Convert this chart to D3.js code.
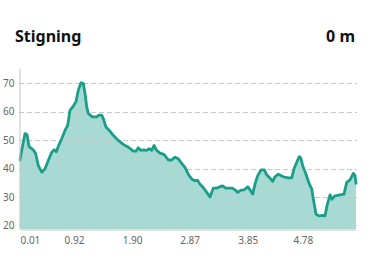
<!DOCTYPE html>
<html>
<head>
<meta charset="utf-8">
<script src="https://cdn.jsdelivr.net/npm/d3@7"></script>
<style>
  body { margin: 0; background: #fff; }
  svg { display: block; font-family: "Noto Sans", "Open Sans", sans-serif; }
</style>
</head>
<body>
<svg id="chart" width="370" height="275"></svg>
<script>
// distance (km) and elevation (m)
const dist = [0.01, 0.044, 0.094, 0.128, 0.162, 0.195, 0.234, 0.275, 0.319, 0.376,
  0.432, 0.487, 0.545, 0.588, 0.622, 0.656, 0.713, 0.769, 0.814, 0.853,
  0.909, 0.954, 0.993, 1.039, 1.077, 1.106, 1.135, 1.162, 1.229, 1.303,
  1.342, 1.388, 1.415, 1.460, 1.516, 1.583, 1.668, 1.752, 1.836, 1.921,
  1.966, 2.005, 2.045, 2.089, 2.147, 2.190, 2.231, 2.270, 2.315, 2.371,
  2.438, 2.511, 2.568, 2.624, 2.679, 2.737, 2.792, 2.848, 2.905, 2.961,
  3.007, 3.045, 3.101, 3.158, 3.214, 3.270, 3.327, 3.383, 3.428, 3.479,
  3.535, 3.590, 3.636, 3.681, 3.737, 3.792, 3.850, 3.889, 3.934, 3.973,
  4.018, 4.074, 4.130, 4.170, 4.226, 4.271, 4.310, 4.366, 4.450, 4.534,
  4.592, 4.631, 4.676, 4.720, 4.743, 4.777, 4.833, 4.889, 4.929, 4.957,
  5.002, 5.057, 5.115, 5.153, 5.192, 5.238, 5.270, 5.322, 5.406, 5.474,
  5.519, 5.575, 5.631, 5.659, 5.676];
const elev = [43.0, 47.0, 52.3, 52.0, 47.8, 47.2, 46.6, 45.2, 41.0, 38.7,
  39.9, 42.8, 45.7, 46.6, 45.9, 47.8, 50.5, 53.4, 55.2, 60.5,
  62.0, 63.5, 67.6, 70.2, 70.0, 66.5, 61.7, 59.4, 58.2, 58.2,
  58.8, 58.8, 57.6, 54.6, 53.4, 51.7, 49.9, 48.5, 47.5, 46.1,
  46.1, 47.3, 46.4, 46.6, 46.4, 47.0, 46.4, 48.1, 46.4, 45.4,
  45.0, 43.0, 43.0, 44.0, 43.4, 41.8, 40.4, 38.0, 36.3, 35.7,
  35.8, 34.5, 33.3, 31.6, 30.0, 33.1, 33.1, 33.6, 33.9, 33.1,
  33.1, 33.1, 32.5, 31.6, 32.4, 32.5, 33.6, 32.5, 31.0, 34.5,
  37.5, 39.5, 39.5, 37.8, 36.6, 35.5, 37.1, 38.0, 37.1, 36.7,
  36.7, 39.9, 42.2, 44.2, 43.8, 41.0, 38.0, 34.5, 32.8, 29.2,
  23.9, 23.3, 23.5, 23.3, 27.4, 30.7, 29.2, 30.4, 30.7, 31.0,
  35.1, 36.0, 38.3, 37.5, 34.8];
const xTicks = [0.01, 0.92, 1.90, 2.87, 3.85, 4.78];
const yTicks = [20, 30, 40, 50, 60, 70];
const title = "Stigning";
const total = "0 m";

const points = dist.map((d, i) => ({ d: d, e: elev[i] }));

const svg = d3.select("#chart");
const padLeft = 20, padRight = 356, padTop = 68, padBottom = 229;

const x = d3.scaleLinear().domain([0.01, d3.max(dist)]).range([padLeft, padRight]);
const y = d3.scaleLinear().domain([18.7, 75.4]).range([padBottom, padTop]);

// header
svg.append("text").attr("x", 15).attr("y", 42)
  .attr("font-size", 16).attr("font-weight", 700).attr("fill", "#111")
  .text(title);
svg.append("text").attr("x", 355).attr("y", 42).attr("text-anchor", "end")
  .attr("font-size", 16).attr("font-weight", 700).attr("fill", "#111")
  .text(total);

// area
const area = d3.area()
  .x(p => x(p.d))
  .y0(padBottom)
  .y1(p => y(p.e));
svg.append("path").datum(points)
  .attr("d", area)
  .attr("fill", "rgba(26,159,140,0.38)");

// grid lines
svg.append("g").selectAll("line").data(yTicks).enter().append("line")
  .attr("x1", padLeft - 1).attr("x2", padRight + 1)
  .attr("y1", d => Math.round(y(d)) + 0.5).attr("y2", d => Math.round(y(d)) + 0.5)
  .attr("stroke", "#c8c8c8").attr("stroke-dasharray", "5,3");

// line
const line = d3.line().x(p => x(p.d)).y(p => y(p.e));
svg.append("path").datum(points)
  .attr("d", line)
  .attr("fill", "none")
  .attr("stroke", "#1a9e8a")
  .attr("stroke-width", 2.8)
  .attr("stroke-linejoin", "round")
  .attr("stroke-linecap", "round");

// axes
const yAxis = svg.append("g").attr("transform", `translate(${padLeft - 0.5},0)`)
  .call(d3.axisLeft(y).tickValues(yTicks).tickSize(0).tickPadding(5));
yAxis.select(".domain").attr("stroke", "#c4c4c4");
yAxis.selectAll("text").attr("fill", "#666").attr("font-size", 10)
  .attr("font-family", "Noto Sans, sans-serif");

const xAxis = svg.append("g").attr("transform", `translate(0,${padBottom + 0.5})`)
  .call(d3.axisBottom(x).tickValues(xTicks).tickSize(0).tickPadding(7)
    .tickFormat(d3.format(".2f")));
xAxis.select(".domain").attr("stroke", "#c4c4c4");
xAxis.selectAll("text").attr("fill", "#666").attr("font-size", 10)
  .attr("font-family", "Noto Sans, sans-serif")
  .attr("text-anchor", (d, i) => i === 0 ? "start" : "middle");
</script>
</body>
</html>
